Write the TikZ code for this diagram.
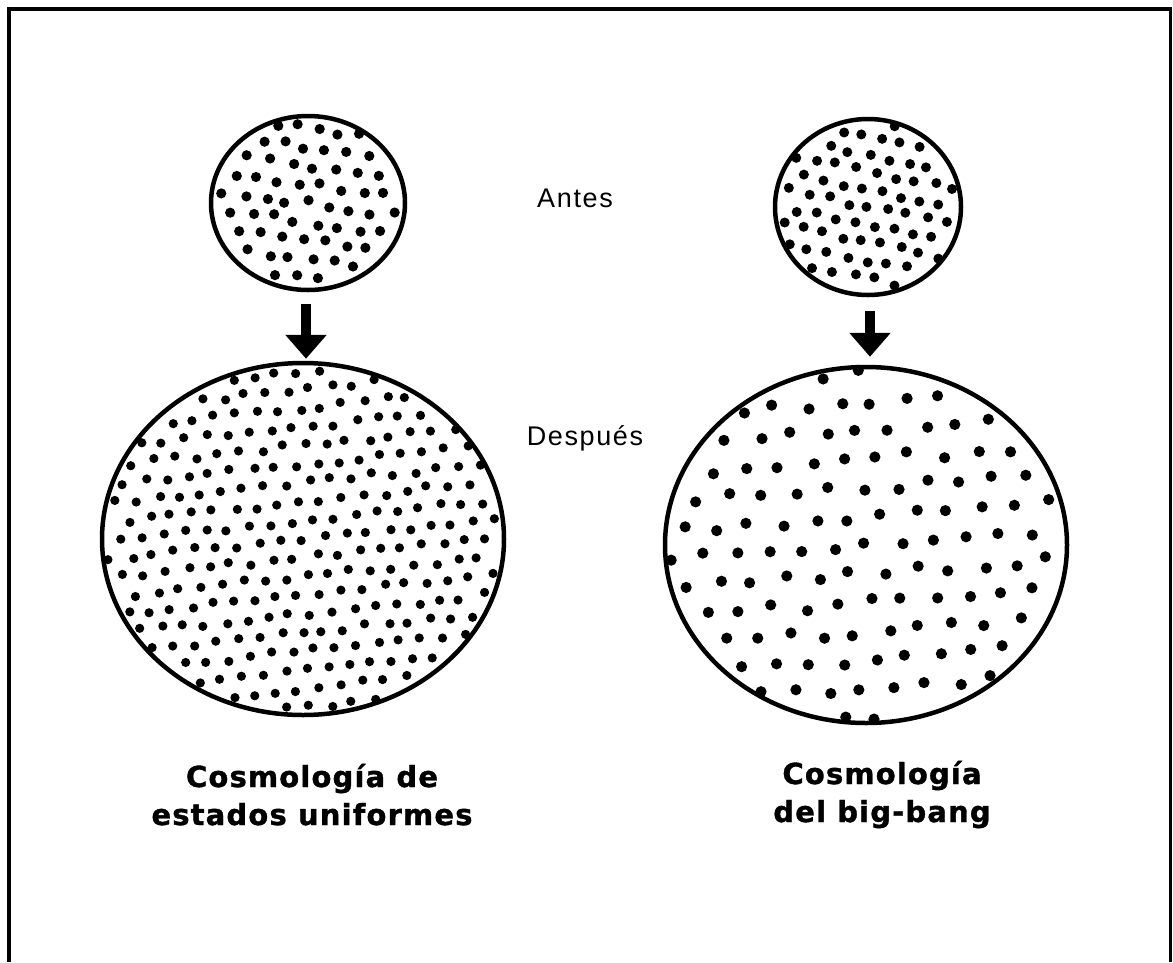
\documentclass[tikz,border=0pt]{standalone}
\usepackage{fontspec}
\usetikzlibrary{shapes.geometric,arrows.meta}
\newfontfamily\plainfont{Liberation Sans}[LetterSpace=6]
\newfontfamily\titlefont{DejaVu Sans}[LetterSpace=4, BoldFeatures={FakeBold=1.2}]
\newcommand{\dotfield}[8]{%
  \foreach \i in {-#8,...,#8}{%
    \foreach \j in {-#8,...,#8}{%
      \pgfmathsetmacro{\uu}{#5*(\i+0.5*\j)}%
      \pgfmathsetmacro{\vv}{#5*0.866*\j}%
      \pgfmathsetmacro{\xx}{\uu*cos(#7)-\vv*sin(#7)+0.13*#5*rand}%
      \pgfmathsetmacro{\yy}{\uu*sin(#7)+\vv*cos(#7)+0.13*#5*rand}%
      \pgfmathtruncatemacro{\inside}{((\xx)/(#3-3))^2+((\yy)/(#4-3))^2<1 ? 1 : 0}%
      \ifnum\inside=1 \fill (#1+\xx,#2+\yy) circle[radius=#6pt];\fi
    }}}
\tikzset{
  sphere/.style={ellipse, draw, line width=4.5pt, inner sep=0pt},
  bigarrow/.style={line width=10pt, -{Triangle[width=40pt,length=24pt]}},
  frameline/.style={line width=3.3pt},
  smalllabel/.style={font=\plainfont\fontsize{27}{30}\selectfont, anchor=base, inner sep=0pt},
  titlelabel/.style={font=\titlefont\bfseries\fontsize{29}{38}\selectfont, align=center, anchor=base, inner sep=0pt}
}
\begin{document}
\begin{tikzpicture}[x=1pt,y=-1pt]
\useasboundingbox[fill=white] (0,0) rectangle (1173,962);
\pgfmathsetseed{7}
% frame
\coordinate (fa) at (9,962);
\coordinate (fb) at (9,9);
\coordinate (fc) at (1170.5,9);
\coordinate (fd) at (1170.5,962);
\draw[frameline] (fa) -- (fb) -- (fc) -- (fd);
% dots
\dotfield{308}{203}{97}{87}{21.5}{5.1}{8}{8}
\dotfield{303}{539}{201}{176}{21.5}{4.6}{-6}{16}
\dotfield{868}{207}{93}{88}{20}{5}{12}{9}
\dotfield{866}{545}{201}{178}{33}{5.6}{-4}{10}
% spheres
\node[sphere, minimum width=194pt, minimum height=174pt] (s1) at (308,203) {};
\node[sphere, minimum width=402pt, minimum height=352pt] (b1) at (303,539) {};
\node[sphere, minimum width=186pt, minimum height=176pt] (s2) at (868,207) {};
\node[sphere, minimum width=402pt, minimum height=356pt] (b2) at (866,545) {};
% arrows
\draw[bigarrow] ([xshift=-2pt,yshift=-12pt]s1.south) -- ([xshift=-2pt,yshift=2pt]s1.south |- b1.north);
\draw[bigarrow] ([xshift=2pt,yshift=-14pt]s2.south) -- ([xshift=2pt,yshift=8pt]s2.south |- b2.north);
% labels
\node[smalllabel] (antes) at (575,207) {Antes};
\node[smalllabel] (despues) at (585,445) {Después};
\node[titlelabel] (t1) at (312,825) {Cosmología de\\estados uniformes};
\node[titlelabel] (t2) at (882,822) {Cosmología\\del big-bang};
\end{tikzpicture}
\end{document}
